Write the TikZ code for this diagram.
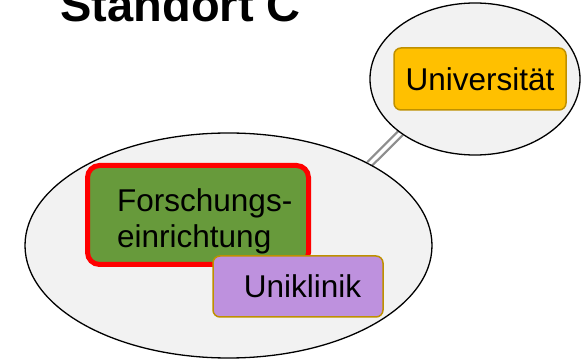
\documentclass[tikz,border=0pt]{standalone}
\usepackage{fontspec}
\setmainfont{Liberation Sans}
\usetikzlibrary{positioning,shapes.geometric,backgrounds}

\definecolor{hellgrau}{HTML}{F2F2F2}
\definecolor{gruen}{HTML}{679A3B}
\definecolor{gold}{HTML}{FFC000}
\definecolor{goldrand}{HTML}{BF9000}
\definecolor{lila}{HTML}{BE91DE}
\definecolor{linie}{HTML}{8E8E8E}

\begin{document}
\begin{tikzpicture}[x=1pt, y=-1pt,
standort/.style={ellipse, draw=black, line width=1.3pt, fill=hellgrau, inner sep=0pt, outer sep=0pt},
kasten/.style={rectangle, rounded corners=7pt, inner sep=0pt, font=\fontsize{31.5}{36}\selectfont},
verbinder/.style={draw=linie, line width=2.3pt, double=white, double distance=3.5pt}
]

\useasboundingbox (0,0) rectangle (582,363);

\node[anchor=base west, font=\fontsize{47}{50}\selectfont\bfseries] (titel) at (57,22) {Standort C};

\node[standort, minimum width=407pt, minimum height=225pt] (gross) at (228.5,245.5) {};
\node[standort, minimum width=210pt, minimum height=152pt] (klein) at (475,79) {};

\begin{scope}[on background layer]
\draw[verbinder] (klein.216) -- (gross.30);
\end{scope}

\node[kasten, draw=goldrand, line width=1.5pt, fill=gold, minimum width=172pt, minimum height=62pt] (uni) at (480,79) {Universität};

\node[kasten, draw=red, line width=5pt, rounded corners=12pt, fill=gruen, minimum width=221pt, minimum height=99pt] (forsch) at (198,215) {};
\node[kasten, align=left, anchor=west] (forschtext) at ([xshift=32pt, yshift=-6pt]forsch.west) {Forschungs-\\einrichtung};

\node[kasten, draw=goldrand, line width=1.5pt, fill=lila, minimum width=170pt, minimum height=61pt] (klinik) at (298,286.5) {\hspace*{9pt}Uniklinik};

\end{tikzpicture}
\end{document}
